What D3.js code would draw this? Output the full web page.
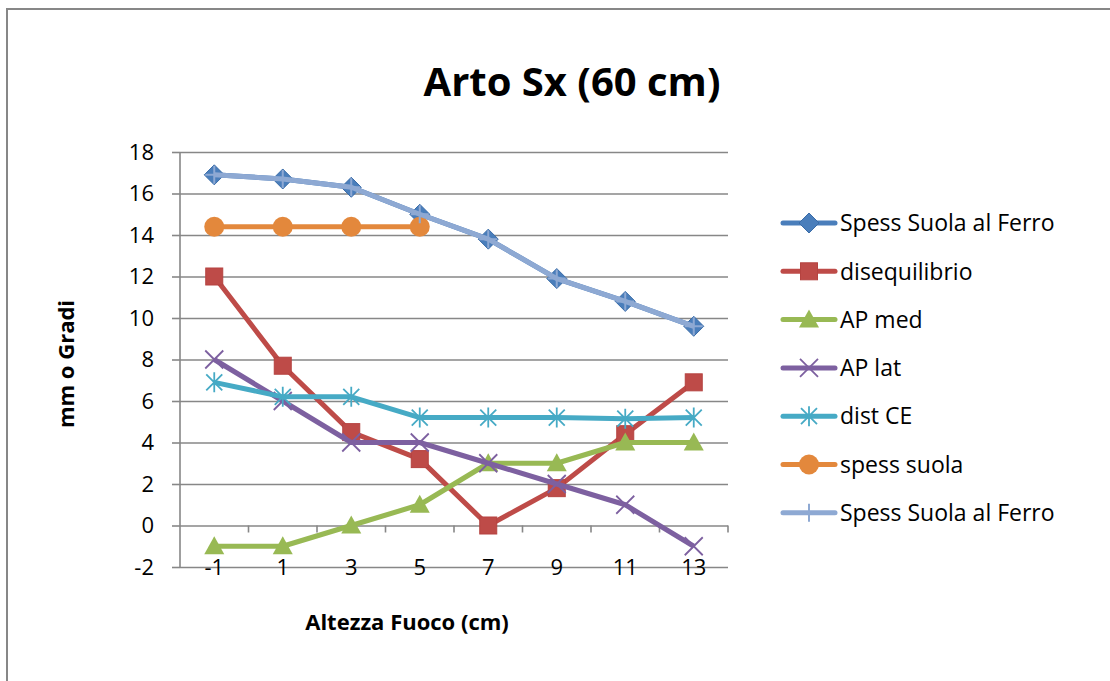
<!DOCTYPE html>
<html>
<head>
<meta charset="utf-8">
<script src="https://cdn.jsdelivr.net/npm/d3@7/dist/d3.min.js"></script>
<style>
  html, body { margin: 0; padding: 0; background: #fff; }
  svg { display: block; font-family: "Open Sans", "Liberation Sans", sans-serif; }
</style>
</head>
<body>
<svg id="chart" width="1110" height="681"></svg>
<script>
// Category labels (focus height, cm)
const categories = ["-1", "1", "3", "5", "7", "9", "11", "13"];

// Series values, one per category (null = no reading)
const spessSuolaFerro = [16.9, 16.7, 16.3, 15.0, 13.8, 11.9, 10.8, 9.6];
const disequilibrio   = [12.0, 7.7, 4.5, 3.2, 0.0, 1.8, 4.4, 6.9];
const apMed           = [-1, -1, 0, 1, 3, 3, 4, 4];
const apLat           = [8, 6, 4, 4, 3, 2, 1, -1];
const distCE          = [6.9, 6.2, 6.2, 5.2, 5.2, 5.2, 5.15, 5.2];
const spessSuola      = [14.4, 14.4, 14.4, 14.4, null, null, null, null];
const spessSuolaFerro2 = [16.9, 16.7, 16.3, 15.0, 13.8, 11.9, 10.8, 9.6];

// Y axis ticks
const yTicks = [-2, 0, 2, 4, 6, 8, 10, 12, 14, 16, 18];

const series = [
  { name: "Spess Suola al Ferro", values: spessSuolaFerro,  color: "#4A7EBB", marker: "diamond" },
  { name: "disequilibrio",        values: disequilibrio,    color: "#BE4B48", marker: "square" },
  { name: "AP med",               values: apMed,            color: "#98B954", marker: "triangle" },
  { name: "AP lat",               values: apLat,            color: "#7D60A0", marker: "x" },
  { name: "dist CE",              values: distCE,           color: "#46AAC5", marker: "asterisk" },
  { name: "spess suola",          values: spessSuola,       color: "#E3883C", marker: "circle" },
  { name: "Spess Suola al Ferro", values: spessSuolaFerro2, color: "#8EA9D3", marker: "plus" }
];

const svg = d3.select("#chart");
const grid = "#878787";

// Chart area frame
svg.append("rect")
  .attr("x", 7).attr("y", 9)
  .attr("width", 1120).attr("height", 690)
  .attr("fill", "#fff")
  .attr("stroke", grid).attr("stroke-width", 2);

const plot = { left: 180, right: 728, top: 152, bottom: 567 };

const x = d3.scaleBand().domain(categories).range([plot.left, plot.right]).padding(0);
const cx = c => x(c) + x.bandwidth() / 2;
const y = d3.scaleLinear().domain([-2, 18]).range([plot.bottom, plot.top]);

// Horizontal gridlines with outward ticks on the value axis
const yAxis = d3.axisLeft(y).tickValues(yTicks).tickSize(8).tickPadding(18)
  .tickFormat(d => String(d));
const gy = svg.append("g").attr("transform", `translate(${plot.left},0)`).call(yAxis);
gy.select(".domain").remove();
gy.selectAll(".tick line").attr("stroke", grid).attr("stroke-width", 1.6);
gy.selectAll(".tick text").attr("font-size", 22).attr("fill", "#000").attr("font-family", "Open Sans");
gy.selectAll(".tick").append("line")
  .attr("x1", 0).attr("x2", plot.right - plot.left)
  .attr("stroke", grid).attr("stroke-width", 1.6);

// Value axis line
svg.append("line")
  .attr("x1", plot.left).attr("x2", plot.left)
  .attr("y1", plot.top).attr("y2", plot.bottom)
  .attr("stroke", grid).attr("stroke-width", 1.6);

// Category axis crosses at zero; tick marks at category boundaries
const y0 = y(0);
const bounds = categories.map(c => x(c)).concat([plot.right]);
svg.append("g").selectAll("line").data(bounds.slice(1)).join("line")
  .attr("x1", d => d).attr("x2", d => d)
  .attr("y1", y0).attr("y2", y0 + 7)
  .attr("stroke", grid).attr("stroke-width", 1.6);

// Category labels sit at the bottom of the plot
const xAxis = d3.axisBottom(x).tickSize(0).tickPadding(-8);
const gx = svg.append("g").attr("transform", `translate(0,${plot.bottom})`).call(xAxis);
gx.select(".domain").remove();
gx.selectAll(".tick text").attr("font-size", 22).attr("fill", "#000").attr("font-family", "Open Sans");

// Marker shapes
function drawMarker(g, type, color) {
  switch (type) {
    case "diamond":
      g.append("path").attr("d", "M0,-10L10,0L0,10L-10,0Z")
        .attr("fill", color).attr("stroke", "#3A6CA8").attr("stroke-width", 1);
      break;
    case "square":
      g.append("rect").attr("x", -8.5).attr("y", -8.5).attr("width", 17).attr("height", 17)
        .attr("fill", color).attr("stroke", "#B54340").attr("stroke-width", 1);
      break;
    case "triangle":
      g.append("path").attr("d", "M0,-10L10,8L-10,8Z").attr("fill", color);
      break;
    case "x":
      g.append("path").attr("d", "M-9,-9L9,9M9,-9L-9,9")
        .attr("stroke", color).attr("stroke-width", 1.8).attr("fill", "none");
      break;
    case "asterisk":
      g.append("path").attr("d", "M-8,-8L8,8M8,-8L-8,8M0,-10L0,10")
        .attr("stroke", color).attr("stroke-width", 1.8).attr("fill", "none");
      break;
    case "circle":
      g.append("circle").attr("r", 10).attr("fill", color);
      break;
    case "plus":
      g.append("path").attr("d", "M-9,0L9,0M0,-9L0,9")
        .attr("stroke", color).attr("stroke-width", 2).attr("fill", "none");
      break;
  }
}

const line = d3.line()
  .defined(d => d.v !== null)
  .x(d => cx(d.c))
  .y(d => y(d.v));

// Series lines and markers, drawn in series order
series.forEach(s => {
  const pts = categories.map((c, i) => ({ c, v: s.values[i] }));
  const g = svg.append("g");
  g.append("path").datum(pts)
    .attr("d", line)
    .attr("fill", "none")
    .attr("stroke", s.color)
    .attr("stroke-width", 5)
    .attr("stroke-linejoin", "round");
  pts.filter(d => d.v !== null).forEach(d => {
    const m = g.append("g").attr("transform", `translate(${cx(d.c)},${y(d.v)})`);
    drawMarker(m, s.marker, s.color);
  });
});

// Legend
const legend = svg.append("g");
series.forEach((s, i) => {
  const ly = 223 + i * 48.3;
  const row = legend.append("g").attr("transform", `translate(0,${ly})`);
  row.append("line").attr("x1", 783).attr("x2", 835)
    .attr("stroke", s.color).attr("stroke-width", 5).attr("stroke-linecap", "round");
  const m = row.append("g").attr("transform", "translate(809,0)");
  drawMarker(m, s.marker, s.color);
  row.append("text").attr("x", 840).attr("y", 0).attr("dy", "0.36em")
    .attr("font-size", 23).attr("fill", "#000").text(s.name);
});

// Titles
svg.append("text").attr("x", 572).attr("y", 96)
  .attr("text-anchor", "middle").attr("font-size", 40).attr("font-weight", "bold")
  .text("Arto Sx (60 cm)");

svg.append("text").attr("x", 407).attr("y", 630)
  .attr("text-anchor", "middle").attr("font-size", 22).attr("font-weight", "bold")
  .text("Altezza Fuoco (cm)");

svg.append("text")
  .attr("transform", "translate(74,364) rotate(-90)")
  .attr("text-anchor", "middle").attr("font-size", 22).attr("font-weight", "bold")
  .text("mm o Gradi");
</script>
</body>
</html>
